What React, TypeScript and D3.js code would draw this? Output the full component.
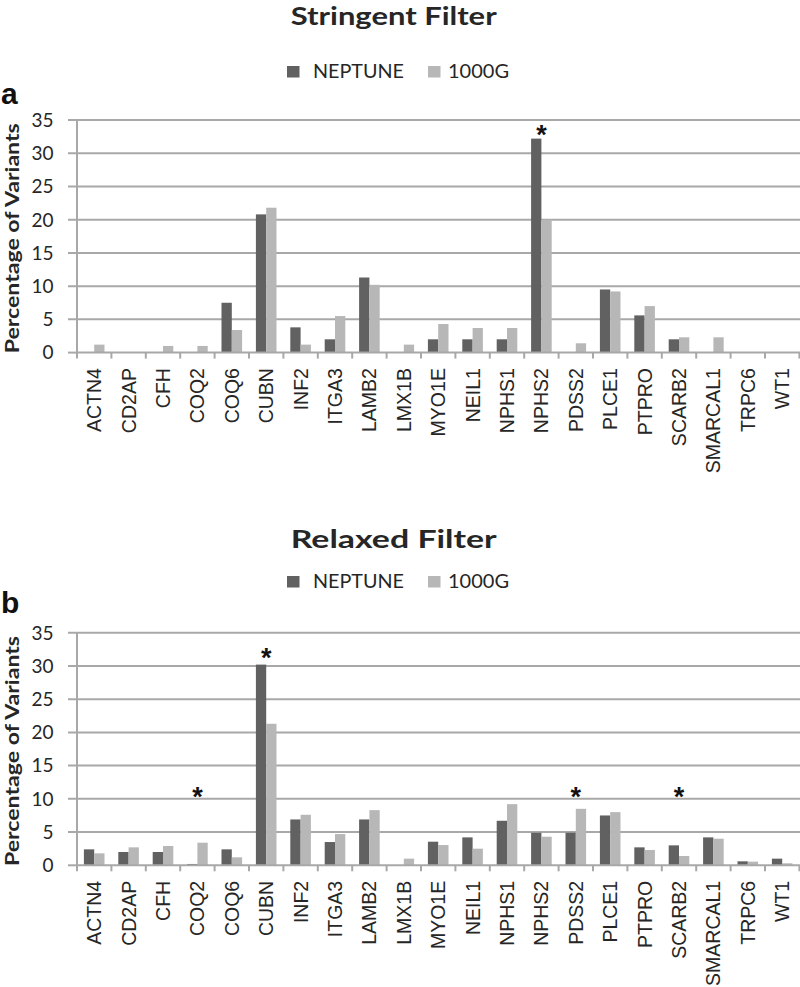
import React from "react";
import * as d3 from "d3";

const genes = ["ACTN4","CD2AP","CFH","COQ2","COQ6","CUBN","INF2","ITGA3","LAMB2","LMX1B","MYO1E","NEIL1","NPHS1","NPHS2","PDSS2","PLCE1","PTPRO","SCARB2","SMARCAL1","TRPC6","WT1"];
const seriesNames = ["NEPTUNE", "1000G"];
const stringentNeptune = [0,0,0,0,7.5,20.8,3.8,2.0,11.3,0,2.0,2.0,2.0,32.2,0,9.5,5.6,2.0,0,0,0];
const stringent1000G = [1.2,0,1.0,1.0,3.4,21.8,1.2,5.5,10.2,1.2,4.3,3.7,3.7,20.0,1.4,9.2,7.0,2.3,2.3,0,0];
const relaxedNeptune = [2.4,2.0,2.0,0.2,2.4,30.2,6.9,3.5,6.9,0,3.55,4.2,6.7,4.9,4.9,7.5,2.7,3.0,4.2,0.6,1.0];
const relaxed1000G = [1.8,2.7,2.9,3.4,1.2,21.3,7.6,4.7,8.3,1.0,3.05,2.5,9.2,4.3,8.5,8.0,2.3,1.4,4.0,0.55,0.3];
const stringentStarGenes = ["NPHS2"];
const stringentStarValues = [33.8];
const relaxedStarGenes = ["COQ2","CUBN","PDSS2","SCARB2"];
const relaxedStarValues = [11.4,32.3,11.4,11.4];
const yTicks = [0,5,10,15,20,25,30,35];
const panelTitles = ["Stringent Filter", "Relaxed Filter"];
const panelLetters = ["a", "b"];
const yAxisTitle = "Percentage of Variants";

const COLORS = ["#616161", "#b7b7b7"];
const GRID = "#a8a8a8";
const TEXT = "#262626";

type PanelProps = {
  title: string; letter: string; a: number[]; b: number[];
  starGenes: string[]; starValues: number[];
  titleY: number; legendY: number; letterY: number; plotTop: number; plotBottom: number;
};

function Panel(p: PanelProps) {
  const x = d3.scaleBand<string>().domain(genes).range([77, 799.4]).padding(0);
  const xs = d3.scaleBand<string>().domain(seriesNames).range([0, x.bandwidth()]).paddingInner(0).paddingOuter(0.67);
  const y = d3.scaleLinear().domain([0, 35]).range([p.plotBottom, p.plotTop]);
  const values = [p.a, p.b];
  const boundaries = d3.range(genes.length + 1).map(i => 77 + i * x.step());
  return (
    <g>
      <text x={393.7} y={p.titleY} textAnchor="middle" fontFamily="Lato" fontWeight={700} fontSize={24} textLength={206} lengthAdjust="spacingAndGlyphs" fill={TEXT}>{p.title}</text>
      <text x={1} y={p.letterY} fontFamily="Liberation Sans" fontWeight={700} fontSize={30} fill="#111">{p.letter}</text>
      <rect x={287} y={p.legendY} width={12.5} height={11.5} fill={COLORS[0]} />
      <text x={313} y={p.legendY + 12} fontFamily="Lato" fontSize={19.5} fill={TEXT} textLength={91} lengthAdjust="spacingAndGlyphs">{seriesNames[0]}</text>
      <rect x={428} y={p.legendY} width={12.5} height={11.5} fill={COLORS[1]} />
      <text x={448} y={p.legendY + 12} fontFamily="Lato" fontSize={19.5} fill={TEXT} textLength={61} lengthAdjust="spacingAndGlyphs">{seriesNames[1]}</text>
      {yTicks.map(t => (
        <g key={t}>
          {t > 0 && <line x1={68} x2={800} y1={y(t)} y2={y(t)} stroke={GRID} strokeWidth={2} />}
          {t === 0 && <line x1={68} x2={77} y1={y(t)} y2={y(t)} stroke={GRID} strokeWidth={2} />}
          <text x={53.5} y={y(t)} dy="0.36em" textAnchor="end" fontFamily="Lato" fontSize={19} fill={TEXT}>{t}</text>
        </g>
      ))}
      <text transform={`translate(19,${(p.plotTop + p.plotBottom) / 2 + 2}) rotate(-90)`} textAnchor="middle" fontFamily="Lato" fontWeight={700} fontSize={18.5} fill={TEXT} textLength={230} lengthAdjust="spacingAndGlyphs">{yAxisTitle}</text>
      {genes.map((g, i) => (
        <g key={g}>
          {values.map((vals, s) => (
            vals[i] > 0 ? <rect key={s} x={(x(g) as number) + (xs(seriesNames[s]) as number)} y={y(vals[i])} width={xs.bandwidth()} height={y(0) - y(vals[i])} fill={COLORS[s]} /> : null
          ))}
        </g>
      ))}
      <line x1={77} x2={77} y1={p.plotTop} y2={p.plotBottom + 1} stroke={GRID} strokeWidth={2} />
      <line x1={77} x2={800} y1={y(0)} y2={y(0)} stroke={GRID} strokeWidth={2} />
      {boundaries.map((bx, i) => (
        <line key={i} x1={bx} x2={bx} y1={y(0)} y2={y(0) + 6} stroke={GRID} strokeWidth={2} />
      ))}
      {genes.map(g => (
        <text key={g} transform={`translate(${(x(g) as number) + x.bandwidth() / 2},${p.plotBottom + 15.5}) rotate(-90)`} dy="0.36em" textAnchor="end" fontFamily="Liberation Sans" fontSize={19.5} fill={TEXT}>{g}</text>
      ))}
      {p.starGenes.map((g, i) => (
        <text key={g} x={(x(g) as number) + x.bandwidth() / 2} y={y(p.starValues[i]) + 16} textAnchor="middle" fontFamily="Liberation Sans" fontWeight={700} fontSize={27} fill="#111">*</text>
      ))}
    </g>
  );
}

export default function App() {
  const off = 512.7;
  return (
    <svg width={800} height={987} style={{ position: "absolute", left: 0, top: 0, background: "#fff" }}>
      <rect width={800} height={987} fill="#fff" />
      <Panel title={panelTitles[0]} letter={panelLetters[0]} a={stringentNeptune} b={stringent1000G}
        starGenes={stringentStarGenes} starValues={stringentStarValues}
        titleY={25} legendY={66} letterY={104} plotTop={120} plotBottom={352.6} />
      <Panel title={panelTitles[1]} letter={panelLetters[1]} a={relaxedNeptune} b={relaxed1000G}
        starGenes={relaxedStarGenes} starValues={relaxedStarValues}
        titleY={548} legendY={66 + 510} letterY={613} plotTop={120 + off} plotBottom={352.6 + off} />
    </svg>
  );
}
